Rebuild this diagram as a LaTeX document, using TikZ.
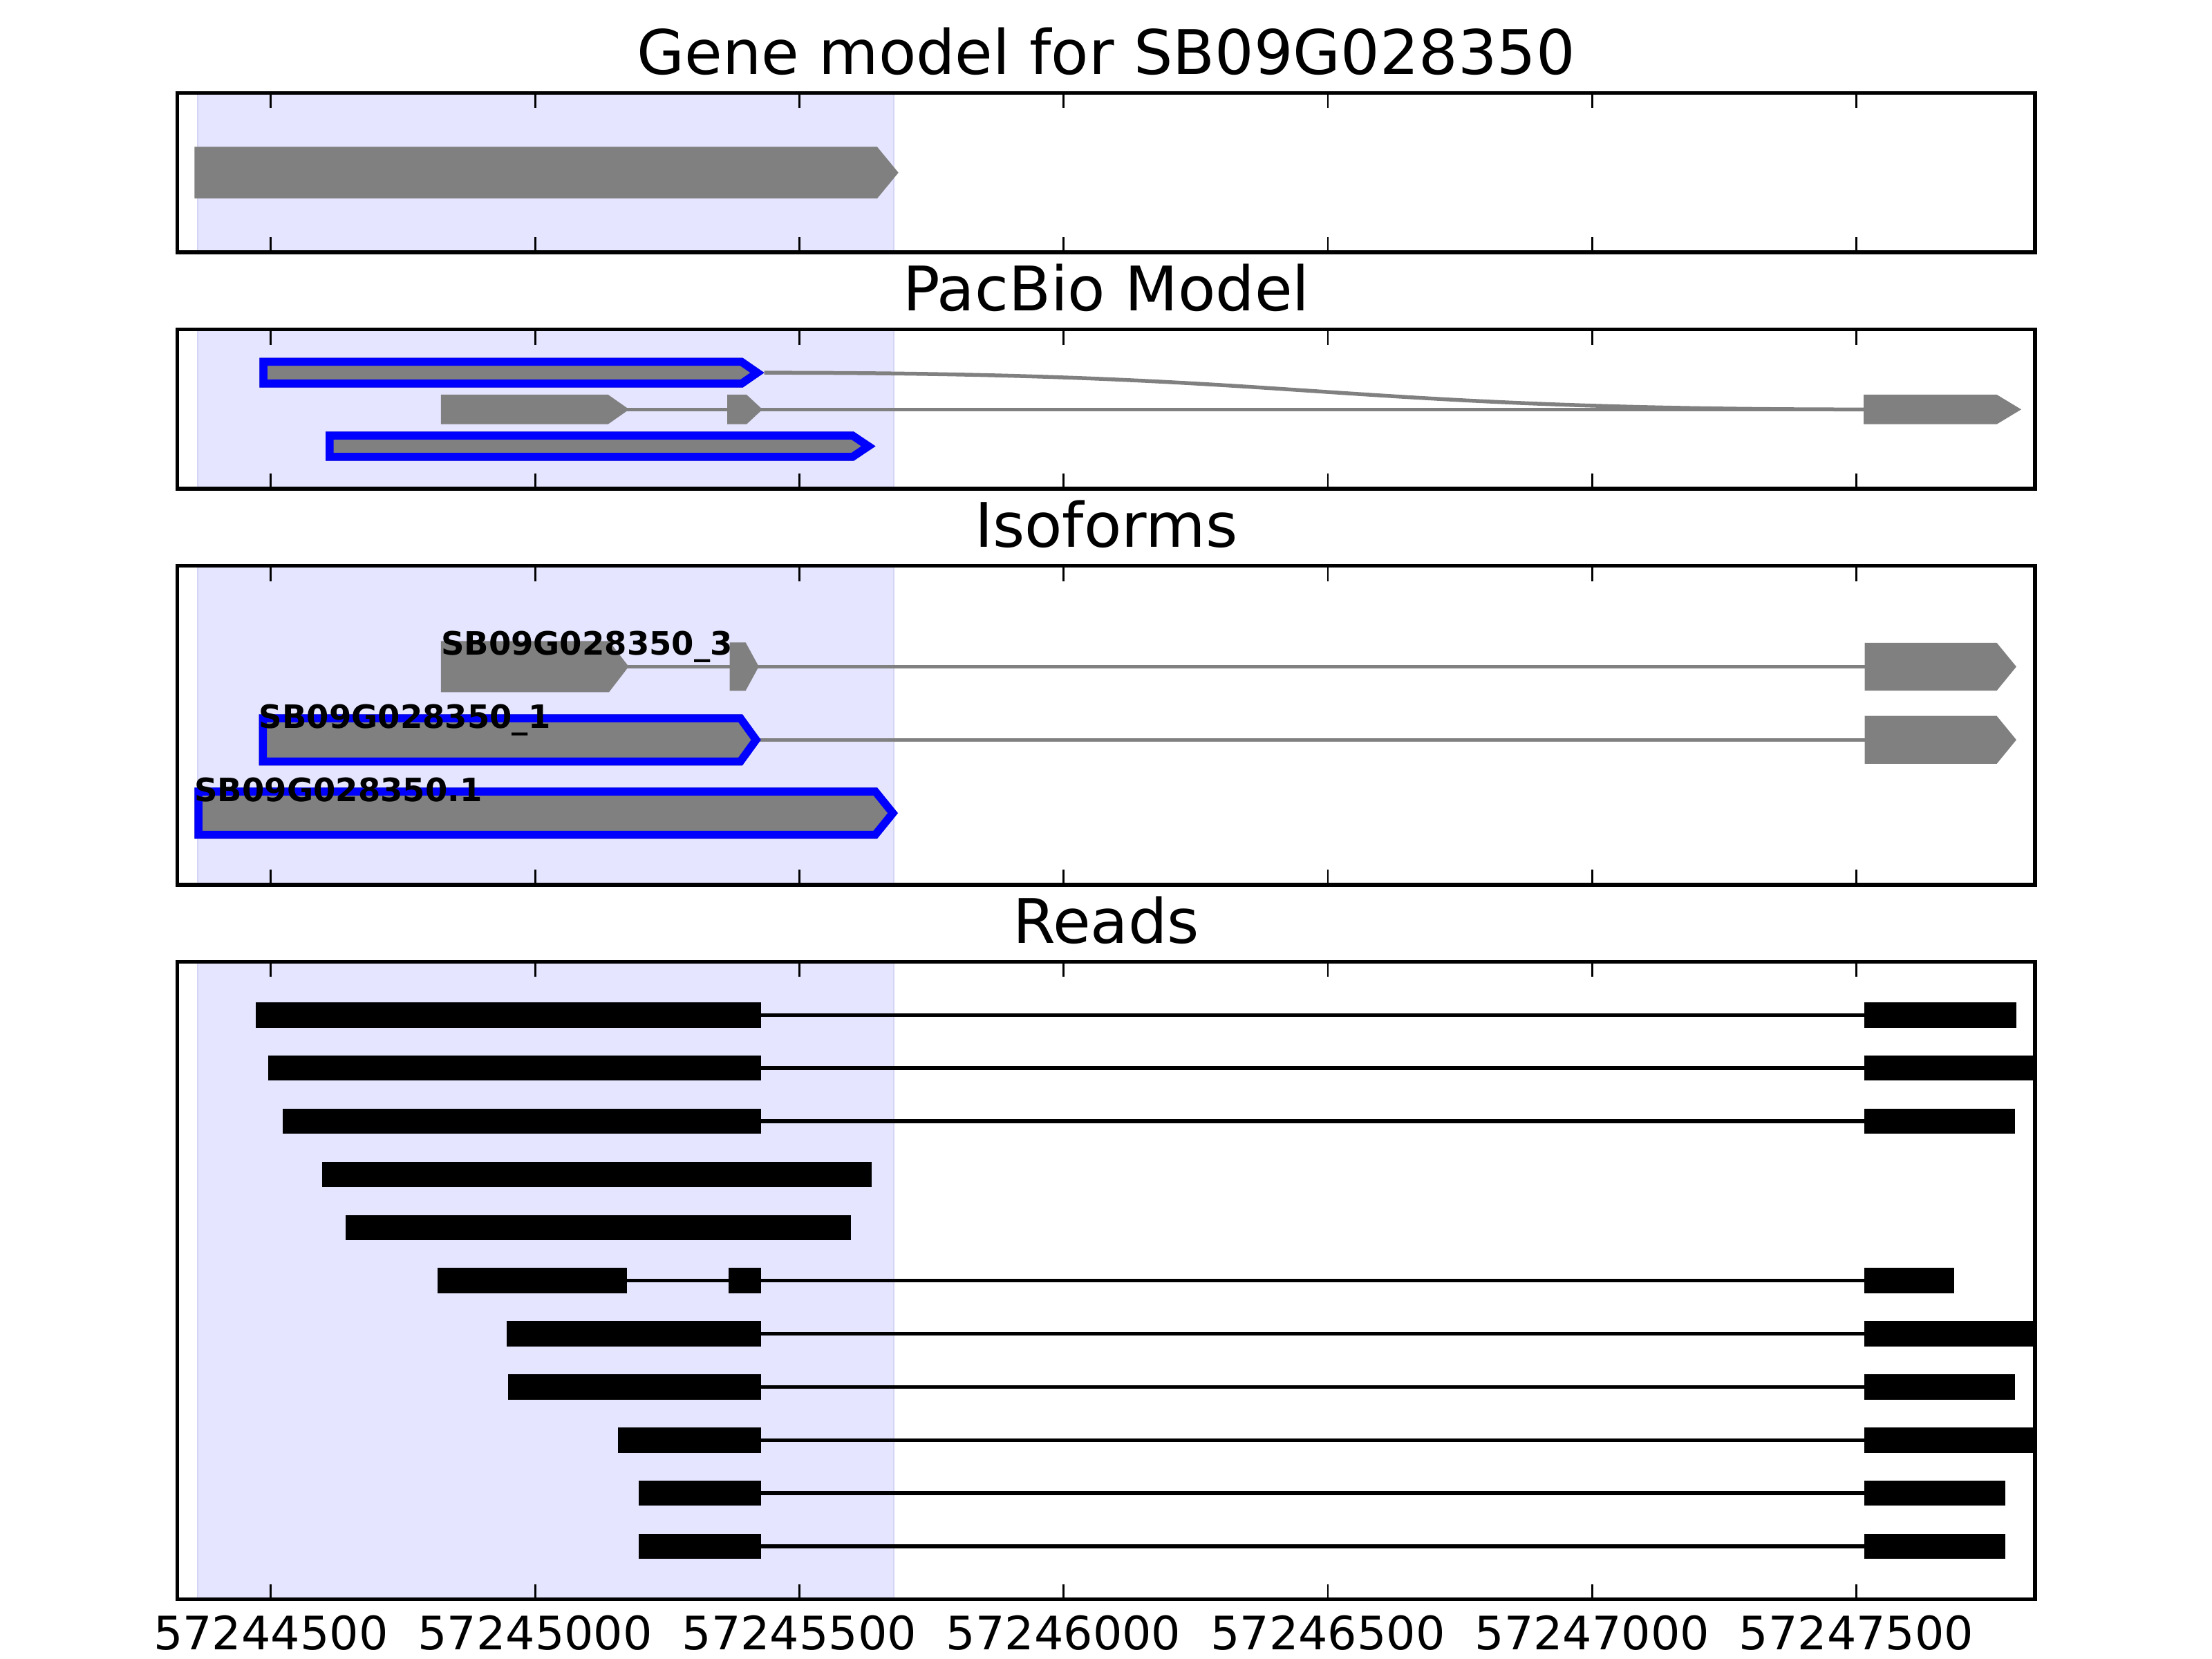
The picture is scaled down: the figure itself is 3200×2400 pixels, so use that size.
\documentclass[tikz,border=0pt]{standalone}
\usepackage{fontspec}
\setmainfont{DejaVu Sans}
\definecolor{spanfill}{RGB}{229,229,255}
\definecolor{spanedge}{RGB}{212,212,244}
\definecolor{genegray}{RGB}{128,128,128}
\tikzset{
  titletext/.style={anchor=base,inner sep=0pt,font=\fontsize{88.9}{100}\selectfont},
  ticklabel/.style={anchor=base,inner sep=0pt,font=\fontsize{66.7}{75}\selectfont},
  isolabel/.style={anchor=base west,inner sep=0pt,font=\fontsize{46.5}{52}\selectfont\bfseries},
  spine/.style={line width=5.56pt,line join=miter},
  tickmark/.style={line width=2.8pt},
  intron/.style={genegray,line width=5.5pt},
  readline/.style={black,line width=5.5pt},
}
% gray gene arrow: start, body end, tip, centre y, half height
\newcommand\garrow[5]{\fill[genegray] (#1,#4-#5) -- (#2,#4-#5) -- (#3,#4) -- (#2,#4+#5) -- (#1,#4+#5) -- cycle;}
% gray arrow with inner blue outline
\newcommand\barrow[5]{\begin{scope}
  \clip (#1,#4-#5) -- (#2,#4-#5) -- (#3,#4) -- (#2,#4+#5) -- (#1,#4+#5) -- cycle;
  \fill[genegray] (#1,#4-#5) -- (#2,#4-#5) -- (#3,#4) -- (#2,#4+#5) -- (#1,#4+#5) -- cycle;
  \draw[blue,line width=23pt] (#1,#4-#5) -- (#2,#4-#5) -- (#3,#4) -- (#2,#4+#5) -- (#1,#4+#5) -- cycle;
\end{scope}}
% black read block: start, end, centre y
\newcommand\rdblk[3]{\fill[black] (#1,#3-18.25) rectangle (#2,#3+18.25);}
% panel frame pieces: top, bottom
\newcommand\pshade[2]{\fill[spanfill] (286,#1) rectangle (1293,#2);
  \draw[spanedge,line width=2.5pt] (286,#1) -- (286,#2) (1293,#1) -- (1293,#2);}
\newcommand\pticks[2]{\foreach \tx in {391.8,774.1,1156.4,1538.7,1921.0,2303.3,2685.6}{
  \draw[tickmark] (\tx,#1) -- (\tx,#1+22);
  \draw[tickmark] (\tx,#2) -- (\tx,#2-22);}
  \draw[spine] (256.5,#1) rectangle (2944,#2);}
\begin{document}
\begin{tikzpicture}[x=1pt,y=-1pt]
\useasboundingbox[fill=white] (0,0) rectangle (3200,2400);

% ---------------- Panel 1: Gene model ----------------
\pshade{134.5}{365.1}
\garrow{281.3}{1269}{1299.7}{249.8}{37.3}
\pticks{134.5}{365.1}
\node[titletext] (t1) at (1600.25,107.8) {Gene model for SB09G028350};

% ---------------- Panel 2: PacBio model ----------------
\pshade{476.6}{707.2}
\draw[intron] (1105.6,539.2) .. controls (1901,539.2) and (1901,592.3) .. (2696,592.3);
\draw[intron] (900,592.3) -- (1055,592.3);
\draw[intron] (1095,592.3) -- (2700,592.3);
\barrow{375.4}{1074.5}{1105.6}{539.2}{21.5}
\garrow{637.9}{879.6}{910.2}{592.3}{21.4}
\garrow{1052}{1080}{1103}{592.3}{21.4}
\garrow{2696}{2888.6}{2924}{592.3}{21.4}
\barrow{471}{1235}{1266.6}{645.5}{21.2}
\pticks{476.6}{707.2}
\node[titletext] (t2) at (1600.25,449.3) {PacBio Model};

% ---------------- Panel 3: Isoforms ----------------
\pshade{818.7}{1279.8}
\draw[intron] (900,964.3) -- (1058,964.3);
\draw[intron] (1090,964.3) -- (2700,964.3);
\draw[intron] (1095,1070.3) -- (2700,1070.3);
\garrow{637.9}{881}{909.5}{964.3}{37}
\garrow{1055.6}{1078.6}{1097.7}{964.3}{35}
\garrow{2697.6}{2888.6}{2916.9}{964.5}{34.6}
\barrow{374.7}{1074}{1100.8}{1070.3}{37}
\garrow{2697.6}{2888.6}{2916.9}{1070.3}{34.6}
\barrow{281.3}{1269}{1299}{1176.3}{37}
\node[isolabel] (l3) at (637.9,947.0) {SB09G028350\_3};
\node[isolabel] (l1) at (374.7,1053.3) {SB09G028350\_1};
\node[isolabel] (l0) at (281.3,1159.6) {SB09G028350.1};
\pticks{818.7}{1279.8}
\node[titletext] (t3) at (1600.25,791.5) {Isoforms};

% ---------------- Panel 4: Reads ----------------
\pshade{1391.3}{2313.5}
% introns
\foreach \ry in {1468.3,1545.2,1622.0,1852.7,1929.5,2006.4,2083.3,2160.1,2237.0}{
  \draw[readline] (1100,\ry) -- (2698,\ry);}
\draw[readline] (907,1852.7) -- (1055,1852.7);
% exons
\rdblk{370.1}{1100.7}{1468.3}   \rdblk{2697}{2916.7}{1468.3}
\rdblk{387.7}{1100.7}{1545.2}   \rdblk{2697}{2944}{1545.2}
\rdblk{409.0}{1100.7}{1622.0}   \rdblk{2697}{2914.7}{1622.0}
\rdblk{465.7}{1261.4}{1698.9}
\rdblk{500.0}{1230.8}{1775.8}
\rdblk{633.3}{907.3}{1852.7}    \rdblk{1054.3}{1100.7}{1852.7} \rdblk{2697}{2826.7}{1852.7}
\rdblk{733.2}{1100.7}{1929.5}   \rdblk{2697}{2944}{1929.5}
\rdblk{735.1}{1100.7}{2006.4}   \rdblk{2697}{2914.7}{2006.4}
\rdblk{893.9}{1100.7}{2083.3}   \rdblk{2697}{2944}{2083.3}
\rdblk{924.1}{1100.7}{2160.1}   \rdblk{2697}{2900.7}{2160.1}
\rdblk{924.1}{1100.7}{2237.0}   \rdblk{2697}{2900.7}{2237.0}
\pticks{1391.3}{2313.5}
\node[titletext] (t4) at (1600.25,1364.5) {Reads};

% tick labels
\node[ticklabel] (x1) at (391.8,2386.5) {57244500};
\node[ticklabel] (x2) at (774.1,2386.5) {57245000};
\node[ticklabel] (x3) at (1156.4,2386.5) {57245500};
\node[ticklabel] (x4) at (1538.7,2386.5) {57246000};
\node[ticklabel] (x5) at (1921.0,2386.5) {57246500};
\node[ticklabel] (x6) at (2303.3,2386.5) {57247000};
\node[ticklabel] (x7) at (2685.6,2386.5) {57247500};
\end{tikzpicture}
\end{document}
